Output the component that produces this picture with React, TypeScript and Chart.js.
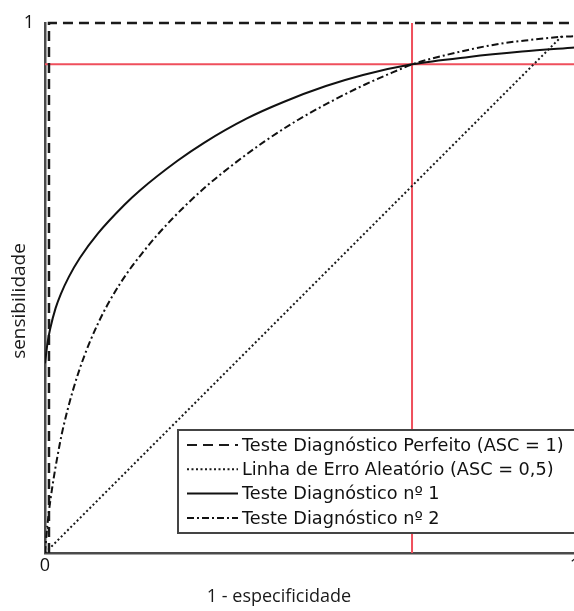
import React, { useEffect, useRef } from "react";
import { Chart, registerables } from "chart.js";

Chart.register(...registerables);

const seriesLabels = [
  "Teste Diagnóstico Perfeito (ASC = 1)",
  "Linha de Erro Aleatório (ASC = 0,5)",
  "Teste Diagnóstico nº 1",
  "Teste Diagnóstico nº 2",
];

const perfectX = [0.0075, 0.0075, 1];
const perfectY = [0, 1, 1];
const randomX = [0, 0.975];
const randomY = [0, 0.975];
const test1X = [0, 0.005, 0.01, 0.02, 0.03, 0.045, 0.066, 0.1, 0.15, 0.179, 0.25, 0.3, 0.381, 0.45, 0.53, 0.6, 0.6925, 0.8, 0.9, 1.0];
const test1Y = [0.358, 0.398, 0.424, 0.462, 0.489, 0.521, 0.557, 0.603, 0.657, 0.684, 0.74, 0.774, 0.82, 0.851, 0.881, 0.902, 0.922, 0.936, 0.946, 0.954];
const test2X = [0, 0.004, 0.0094, 0.0283, 0.0415, 0.066, 0.1, 0.1415, 0.19, 0.2415, 0.3, 0.355, 0.415, 0.477, 0.54, 0.604, 0.666, 0.6925, 0.7585, 0.853, 0.915, 0.9755, 1.0];
const test2Y = [0, 0.047, 0.094, 0.208, 0.266, 0.349, 0.433, 0.508, 0.574, 0.632, 0.688, 0.733, 0.777, 0.817, 0.852, 0.884, 0.911, 0.922, 0.94, 0.96, 0.968, 0.974, 0.975];
const cutoffX = 0.6925;
const cutoffY = 0.922;
const xTickValues = [0, 1];
const yTickValues = [1];
const xTitle = "1 - especificidade";
const yTitle = "sensibilidade";

const toPoints = (xs: number[], ys: number[]) => xs.map((x, i) => ({ x, y: ys[i] }));

const titlesPlugin = {
  id: "axisTitles",
  afterDraw(chart: any) {
    const { ctx, chartArea } = chart;
    ctx.save();
    ctx.fillStyle = "#1a1a1a";
    ctx.textAlign = "center";
    ctx.textBaseline = "middle";
    ctx.font = "18px 'Open Sans'";
    ctx.fillText(xTitle, chartArea.left + 234, chartArea.bottom + 44);
    ctx.translate(20, chartArea.top + 278);
    ctx.rotate(-Math.PI / 2);
    ctx.font = "19px 'Open Sans'";
    ctx.fillText(yTitle, 0, 0);
    ctx.restore();
  },
};

const legendPlugin = {
  id: "rocLegend",
  afterDraw(chart: any) {
    const { ctx, chartArea } = chart;
    const left = chartArea.left + 133;
    const top = chartArea.top + 407;
    const bottom = chartArea.top + 510;
    const right = chartArea.right + 20;
    ctx.save();
    ctx.fillStyle = "#ffffff";
    ctx.fillRect(left, top, right - left, bottom - top);
    ctx.strokeStyle = "#444444";
    ctx.lineWidth = 2;
    ctx.strokeRect(left, top, right - left, bottom - top);
    chart.data.datasets.slice(0, 4).forEach((ds: any, i: number) => {
      const y = top + 15 + i * 24.3;
      ctx.setLineDash(ds.borderDash || []);
      ctx.strokeStyle = ds.borderColor;
      ctx.lineWidth = 2;
      ctx.beginPath();
      ctx.moveTo(left + 9, y);
      ctx.lineTo(left + 60, y);
      ctx.stroke();
      ctx.setLineDash([]);
      ctx.fillStyle = "#111111";
      ctx.font = "17.7px 'DejaVu Sans'";
      ctx.textAlign = "left";
      ctx.textBaseline = "middle";
      ctx.fillText(ds.label, left + 64, y + 1);
    });
    ctx.restore();
  },
};

export default function App() {
  const canvasRef = useRef<HTMLCanvasElement | null>(null);

  useEffect(() => {
    document.body.style.margin = "0";
    const canvas = canvasRef.current;
    if (!canvas) return;
    const chart = new Chart(canvas, {
      type: "line",
      data: {
        datasets: [
          {
            label: seriesLabels[0],
            data: toPoints(perfectX, perfectY),
            borderColor: "#1a1a1a",
            borderWidth: 2.5,
            borderDash: [10, 6],
            pointRadius: 0,
            tension: 0,
            clip: false,
            order: 1,
          },
          {
            label: seriesLabels[1],
            data: toPoints(randomX, randomY),
            borderColor: "#1a1a1a",
            borderWidth: 2,
            borderDash: [2, 2.5],
            pointRadius: 0,
            tension: 0,
            order: 1,
          },
          {
            label: seriesLabels[2],
            data: toPoints(test1X, test1Y),
            borderColor: "#111111",
            borderWidth: 2,
            pointRadius: 0,
            cubicInterpolationMode: "monotone",
            order: 0,
          },
          {
            label: seriesLabels[3],
            data: toPoints(test2X, test2Y),
            borderColor: "#111111",
            borderWidth: 2,
            borderDash: [7, 3, 2, 3],
            pointRadius: 0,
            cubicInterpolationMode: "monotone",
            order: 0,
          },
          {
            label: "cutoffX",
            data: [
              { x: cutoffX, y: 0 },
              { x: cutoffX, y: 1 },
            ],
            borderColor: "#ef4f5c",
            borderWidth: 2,
            pointRadius: 0,
            order: 5,
          },
          {
            label: "cutoffY",
            data: [
              { x: 0, y: cutoffY },
              { x: 1, y: cutoffY },
            ],
            borderColor: "#ef4f5c",
            borderWidth: 2,
            pointRadius: 0,
            order: 5,
          },
        ],
      },
      options: {
        animation: false,
        responsive: false,
        layout: { padding: { top: 23, right: 25, left: 0, bottom: 0 } },
        plugins: {
          legend: { display: false },
          tooltip: { enabled: false },
        },
        scales: {
          x: {
            type: "linear",
            min: 0,
            max: 1,
            grid: { display: false, drawTicks: false },
            border: { display: true, color: "#4a4a4a", width: 2.5 },
            afterBuildTicks: (scale: any) => {
              scale.ticks = xTickValues.map((v) => ({ value: v }));
            },
            afterFit: (scale: any) => {
              scale.height = 58;
            },
            ticks: {
              padding: 2,
              color: "#111111",
              font: { family: "'Open Sans'", size: 18 },
              callback: (v: any) => String(v),
              maxRotation: 0,
            },
          },
          y: {
            type: "linear",
            min: 0,
            max: 1,
            grid: { display: false, drawTicks: false },
            border: { display: true, color: "#4a4a4a", width: 2.5 },
            afterBuildTicks: (scale: any) => {
              scale.ticks = yTickValues.map((v) => ({ value: v }));
            },
            afterFit: (scale: any) => {
              scale.width = 45;
            },
            ticks: {
              padding: 11,
              color: "#111111",
              font: { family: "'Open Sans'", size: 18 },
              callback: (v: any) => String(v),
            },
          },
        },
      },
      plugins: [titlesPlugin, legendPlugin],
    });
    return () => chart.destroy();
  }, []);

  return (
    <div style={{ width: 574, height: 611, overflow: "hidden", position: "relative", background: "#ffffff" }}>
      <canvas ref={canvasRef} width={600} height={611} style={{ display: "block" }} />
    </div>
  );
}
